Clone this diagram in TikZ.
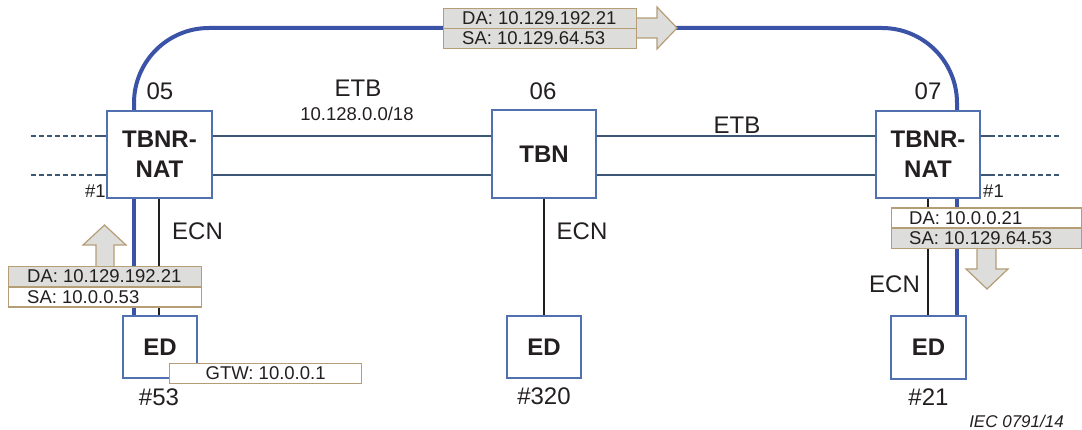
\documentclass[tikz,border=0pt]{standalone}
\usepackage{fontspec}
\setmainfont{Liberation Sans}
\definecolor{boxblue}{HTML}{5070B0}
\definecolor{ringblue}{HTML}{3A53A6}
\definecolor{etbline}{HTML}{3C5676}
\definecolor{tan}{HTML}{B59D76}
\definecolor{pktgrey}{HTML}{DDDDDB}
\definecolor{ink}{HTML}{231F20}
\tikzset{
  big/.style={font=\fontsize{24}{30}\selectfont, text=ink, inner sep=0pt},
  small/.style={font=\fontsize{18.5}{22}\selectfont, text=ink, inner sep=0pt},
  devbox/.style={draw=boxblue, line width=1.4pt, fill=white, inner sep=0pt,
    font=\fontsize{24}{30}\selectfont\bfseries, text=ink, align=center},
  ring/.style={draw=ringblue, line width=4pt},
  etb/.style={draw=etbline, line width=1.8pt},
  etbdash/.style={draw=etbline, line width=1.8pt, dash pattern=on 4.5pt off 3.5pt},
  ecn/.style={draw=ink, line width=1.6pt},
  pktrow/.style={draw=tan, line width=1.2pt, inner sep=0pt, minimum height=20pt},
  pktarrow/.style={draw=tan, line width=1.2pt, fill=pktgrey, line join=miter},
}
\begin{document}
\begin{tikzpicture}[x=1pt, y=-1pt]
\useasboundingbox (0,0) rectangle (1082,430);

% devices
\node[devbox, minimum width=105pt, minimum height=87pt] (tl) at (159.5,154.5) {TBNR-\\NAT};
\node[devbox, minimum width=104pt, minimum height=88pt] (tm) at (544,154) {TBN};
\node[devbox, minimum width=104pt, minimum height=87pt] (tr) at (928,154.5) {TBNR-\\NAT};
\node[devbox, minimum width=74pt, minimum height=62pt] (el) at (160,347) {ED};
\node[devbox, minimum width=74pt, minimum height=62pt] (em) at (544,347) {ED};
\node[devbox, minimum width=75pt, minimum height=63pt] (er) at (928.5,347.5) {ED};

% ETB trunk lines
\draw[etb] ([yshift=18.5pt]tl.east) -- ([yshift=18pt]tm.west);
\draw[etb] ([yshift=-20.5pt]tl.east) -- ([yshift=-21pt]tm.west);
\draw[etb] ([yshift=18pt]tm.east) -- ([yshift=18.5pt]tr.west);
\draw[etb] ([yshift=-21pt]tm.east) -- ([yshift=-20.5pt]tr.west);

% trunk continuation beyond the outer nodes
\coordinate (dl1) at (31,136);
\coordinate (dl2) at (31,175);
\coordinate (sl1) at (97,136);
\coordinate (sl2) at (97,175);
\coordinate (dr1) at (1062,136);
\coordinate (dr2) at (1062,175);
\coordinate (sr1) at (990,136);
\coordinate (sr2) at (990,175);
\draw[etbdash] (dl1) -- (sl1);
\draw[etbdash] (dl2) -- (sl2);
\draw[etb] (sl1) -- (tl.west |- sl1);
\draw[etb] (sl2) -- (tl.west |- sl2);
\draw[etbdash] (sr1) -- (dr1);
\draw[etbdash] (sr2) -- (dr2);
\draw[etb] (tr.east |- sr1) -- (sr1);
\draw[etb] (tr.east |- sr2) -- (sr2);

% routed path over the train backbone
\coordinate (rl) at (134,111);
\coordinate (rr) at (957,111);
\draw[ring, rounded corners=75pt] (rl) -- (134,28) -- (957,28) -- (rr);
\draw[ring] (134,198) -- (134,316);
\draw[ring] (957,198) -- (957,316);

% consist networks
\draw[ecn] (tl.south -| 159,0) -- (el.north -| 159,0);
\draw[ecn] (tm.south) -- (em.north);
\draw[ecn] (tr.south -| 928,0) -- (er.north -| 928,0);

% redraw device frames over the line ends
\foreach \n in {tl,tm,tr,el,em,er}
  \draw[boxblue, line width=1.4pt] (\n.north west) rectangle (\n.south east);

% labels
\node[big] (n05) at (160,91) {05};
\node[big] (n06) at (543,91) {06};
\node[big] (n07) at (928,91) {07};
\node[big] (etb1) at (358,88.5) {ETB};
\node[small] (sub) at (357,114) {10.128.0.0/18};
\node[big] (etb2) at (737,125.5) {ETB};
\node[big] (ecn1) at (197.5,231.5) {ECN};
\node[big] (ecn2) at (582,231) {ECN};
\node[big] (ecn3) at (894.5,284.5) {ECN};
\node[small] (p1l) at (95.5,191.5) {\#1};
\node[small] (p1r) at (993.5,191) {\#1};
\node[big] (a53) at (159,397) {\#53};
\node[big] (a320) at (544,396.5) {\#320};
\node[big] (a21) at (928.5,397) {\#21};
\node[font=\fontsize{17}{20}\selectfont\itshape, text=ink, inner sep=0pt] (iec) at (1016.5,421) {IEC 0791/14};

% packet on the backbone
\draw[pktarrow] (630,18) -- (657,18) -- (657,7) -- (677,28) -- (657,49) -- (657,38) -- (630,38) -- cycle;
\node[pktrow, fill=pktgrey, minimum width=193pt, anchor=north west] (t1) at (443,8) {};
\node[pktrow, fill=pktgrey, minimum width=193pt, anchor=north west] (t2) at (443,28) {};
\node[small, anchor=west] at ([xshift=19pt]t1.west) {DA: 10.129.192.21};
\node[small, anchor=west] at ([xshift=19pt]t2.west) {SA: 10.129.64.53};

% packet leaving ED #53
\draw[pktarrow] (96,270) -- (96,245) -- (83,245) -- (104.5,225) -- (126,245) -- (114,245) -- (114,270) -- cycle;
\node[pktrow, fill=pktgrey, minimum width=193pt, anchor=north west] (l1) at (8,266) {};
\node[pktrow, fill=white, minimum width=193pt, anchor=north west] (l2) at (8,286.5) {};
\node[small, anchor=west] at ([xshift=19pt]l1.west) {DA: 10.129.192.21};
\node[small, anchor=west] at ([xshift=19pt]l2.west) {SA: 10.0.0.53};

% packet arriving at ED #21
\draw[pktarrow] (977,244) -- (977,269) -- (966,269) -- (987,289) -- (1008,269) -- (996,269) -- (996,244) -- cycle;
\node[pktrow, fill=white, minimum width=190pt, anchor=north west] (r1) at (891,207.5) {};
\node[pktrow, fill=pktgrey, minimum width=190pt, anchor=north west] (r2) at (891,228) {};
\node[small, anchor=west] at ([xshift=18pt]r1.west) {DA: 10.0.0.21};
\node[small, anchor=west] at ([xshift=18pt]r2.west) {SA: 10.129.64.53};

% gateway setting of ED #53
\node[pktrow, fill=white, minimum width=192pt, anchor=north west] (gtw) at (169,363) {};
\node[small] at (gtw.center) {GTW: 10.0.0.1};
\end{tikzpicture}
\end{document}
